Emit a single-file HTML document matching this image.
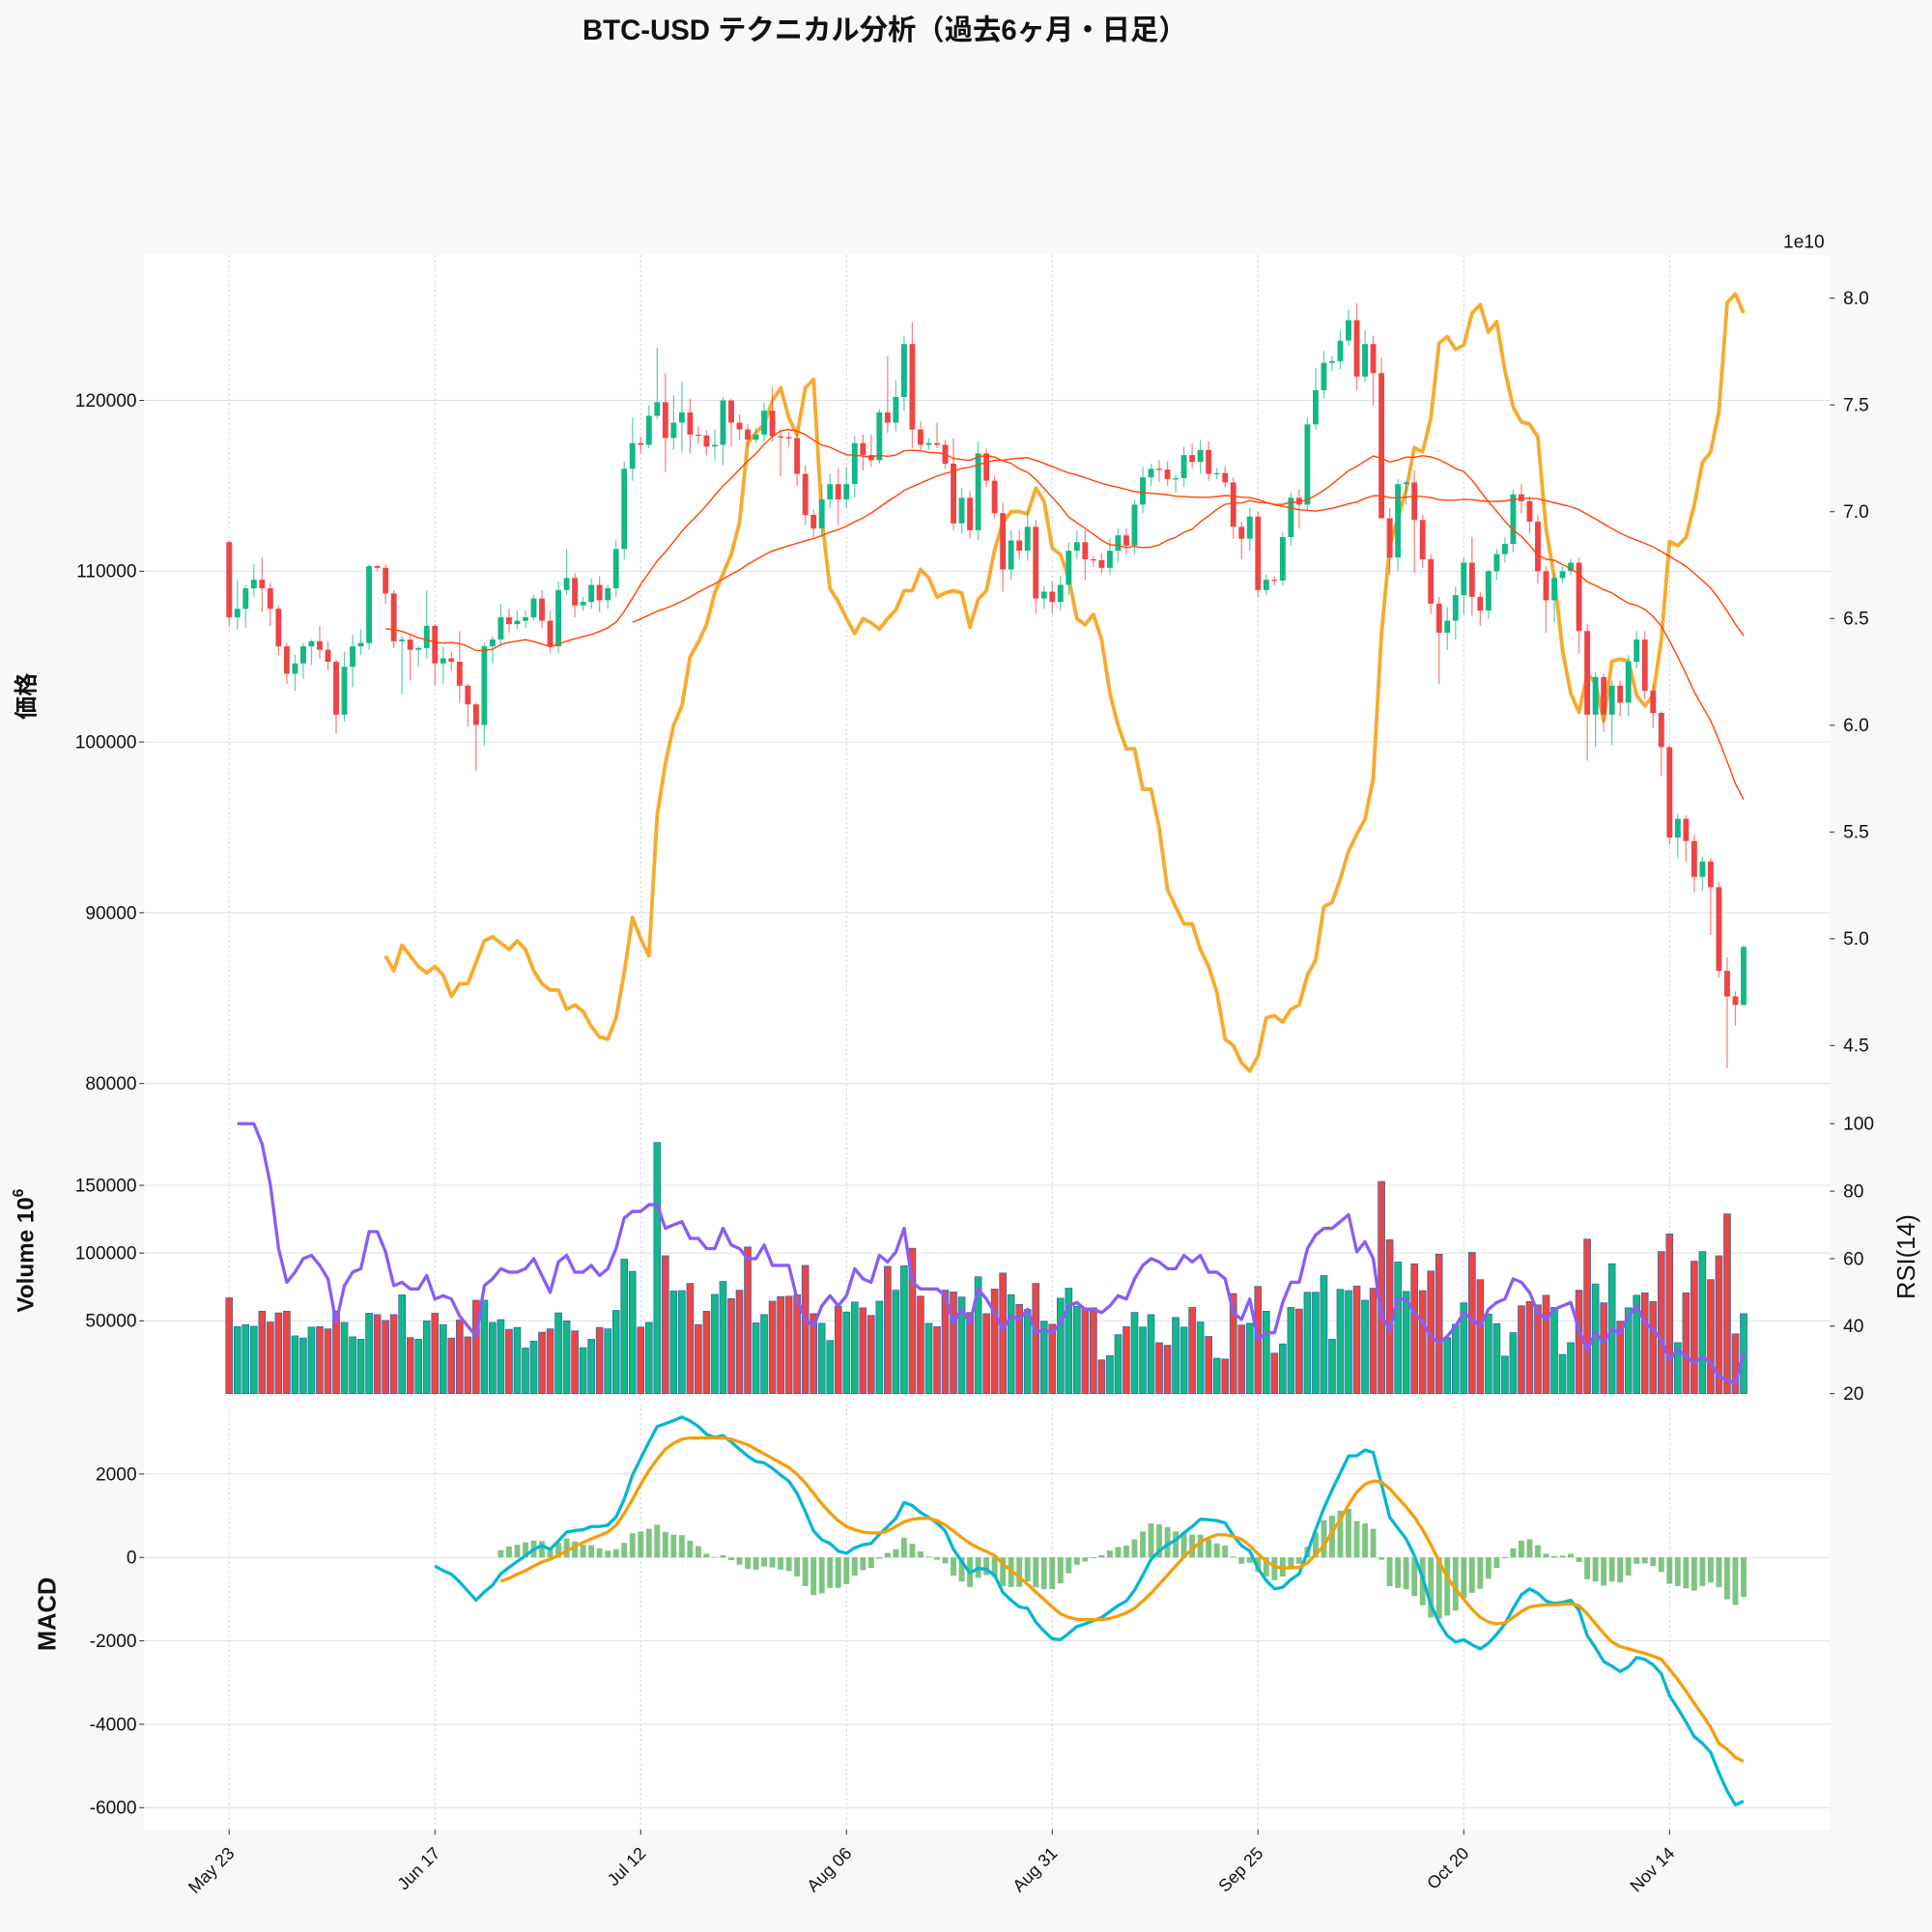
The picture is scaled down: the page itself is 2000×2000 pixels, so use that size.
<!DOCTYPE html>
<html><head><meta charset="utf-8"><style>
html,body{margin:0;padding:0;background:#f7f8fa;}
svg{display:block;font-family:"Liberation Sans","Noto Sans CJK JP",sans-serif;}
</style></head><body>
<svg id="chart" width="2000" height="2000" viewBox="0 0 1568 1568" xmlns="http://www.w3.org/2000/svg">
<rect x="0" y="0" width="1568" height="1568" fill="#f7f8fa"/>
<rect x="117" y="207" width="1368" height="1278" fill="#ffffff"/>
<g id="grid"></g>
<g id="orange"></g>
<g id="candles"></g>
<g id="vol"></g>
<g id="macd"></g>
<g id="axes"></g>
<text x="718" y="32" text-anchor="middle" font-size="23" font-weight="bold" fill="#111">BTC-USD テクニカル分析（過去6ヶ月・日足）</text>
<text transform="translate(28,565) rotate(-90)" text-anchor="middle" font-size="19" font-weight="bold" fill="#111">価格</text>
<text transform="translate(27,1015) rotate(-90)" text-anchor="middle" font-size="19" font-weight="bold" fill="#111">Volume  10<tspan font-size="12" dy="-8">6</tspan></text>
<text transform="translate(45,1310) rotate(-90)" text-anchor="middle" font-size="20" font-weight="bold" fill="#111">MACD</text>
<text transform="translate(1554,1020) rotate(-90)" text-anchor="middle" font-size="20" fill="#111">RSI(14)</text>
<text x="1464" y="201" text-anchor="middle" font-size="15" fill="#111">1e10</text>
</svg>
<script>
const firstOpen = 111700;
const closes = [107300,107800,109000,109500,109000,107800,105600,104000,104600,105600,
105900,105400,104700,101600,104400,105600,105800,110300,110200,108700,
105900,106000,105400,105500,106800,104600,104900,104700,103300,102200,
101000,105600,106000,107300,106900,107100,107300,108400,107100,105600,
108900,109600,108000,108200,109200,108300,109000,111300,116000,117500,
117400,119100,119900,117800,118700,119300,118000,117950,117300,117400,
120000,118700,118300,117700,118000,119400,117900,117850,117800,115700,
113300,112500,114200,115100,114200,115100,117500,116800,116500,119300,
118700,120200,123300,118300,117400,117500,117400,116300,112800,114300,
112400,116900,115300,113400,110100,111800,111200,112600,108400,108800,
108200,109200,111200,111700,110700,110650,110200,111200,112100,111500,
113900,115500,116000,115950,115400,115450,116800,116400,117100,115700,
115750,115200,112600,111900,113200,108900,109500,109450,112000,114300,
113900,118600,120600,122200,122300,123500,124700,121400,123300,121600,
113100,110800,115100,115200,113000,110700,108100,106400,107100,108600,
110500,108500,107700,110000,111000,111600,114500,114100,112900,110000,
108300,109600,110000,110500,106500,101600,103800,101600,103300,102300,
104700,106000,103000,101700,99700,94400,95500,94200,92100,93000,
91500,86600,85100,84600,88000];
const hiExt = [1,17,2,9,13,3,2,2,5,2, 1,9,5,1,9,7,8,1,1,2, 2,2,3,1,21,1,7,4,18,1, 1,2,2,8,5,6,4,2,5,6,
5,17,3,3,4,5,2,5,4,15, 4,6,32,17,16,18,8,5,3,9, 2,1,5,3,4,5,14,4,3,4, 5,3,9,6,9,10,4,5,12,2,
33,10,5,13,5,3,12,3,15,6, 4,7,3,3,6,6,6,9,4,3, 6,5,5,7,7,2,4,7,4,4, 3,6,3,5,5,2,5,7,6,5,
3,4,3,3,5,3,3,2,3,3, 5,4,13,7,3,6,6,10,8,5, 9,6,3,1,7,3,3,4,8,5, 3,15,3,1,3,4,3,6,3,4,
3,3,3,2,3,4,3,2,3,3, 4,5,5,4,1,1,3,2,4,3, 2,3,8,3,1];
const loExt = [5,7,11,5,14,10,5,6,10,9, 11,5,5,11,4,12,5,4,2,6, 4,31,18,10,6,13,12,5,10,13, 27,12,10,4,5,3,4,2,4,4,
4,3,7,3,4,7,5,5,6,7, 5,2,2,20,7,17,11,5,5,8, 12,14,6,4,2,4,3,23,5,7, 6,5,5,5,15,5,8,9,4,2,
6,5,8,11,4,3,2,3,4,6, 5,6,4,3,13,6,5,6,9,6, 7,5,6,5,12,4,3,4,7,5, 5,5,5,7,4,8,5,4,7,4,
3,3,7,12,7,4,3,3,3,5, 14,3,3,5,5,5,3,8,3,19, 0,10,8,12,31,5,6,30,10,11, 11,11,9,5,5,5,5,7,7,7,
19,13,3,2,13,27,19,10,18,8, 8,4,5,9,17,4,12,12,9,8, 28,4,42,12,0];
const volStart = 19;
const volAvg = [4.92,4.85,4.97,4.92,4.87,4.84,4.87,4.83,4.73,4.79,4.79,
4.89,4.99,5.01,4.98,4.95,4.99,4.95,4.85,4.79,4.76,
4.76,4.67,4.69,4.66,4.59,4.54,4.53,4.63,4.84,5.10,
5.00,4.92,5.58,5.82,6.00,6.09,6.32,6.39,6.47,6.62,
6.71,6.80,6.95,7.32,7.37,7.41,7.52,7.58,7.44,7.36,
7.58,7.62,6.97,6.64,6.58,6.50,6.43,6.50,6.48,6.45,
6.50,6.54,6.63,6.63,6.73,6.69,6.60,6.62,6.63,6.62,
6.46,6.59,6.63,6.82,6.95,7.00,7.00,6.99,7.11,7.05,
6.83,6.80,6.69,6.50,6.47,6.52,6.40,6.15,6.00,5.89,
5.89,5.70,5.70,5.52,5.23,5.15,5.07,5.07,4.95,4.87,
4.75,4.53,4.50,4.42,4.38,4.45,4.63,4.64,4.61,4.67,
4.69,4.83,4.90,5.15,5.17,5.28,5.41,5.49,5.56,5.75,
6.43,6.84,6.97,7.10,7.30,7.28,7.44,7.79,7.82,7.76,
7.78,7.93,7.97,7.84,7.89,7.66,7.49,7.42,7.41,7.35,
6.92,6.69,6.35,6.15,6.06,6.24,6.20,6.02,6.30,6.31,
6.30,6.14,6.09,6.14,6.40,6.86,6.84,6.88,7.03,7.23,
7.28,7.47,7.98,8.02,7.93];
const volumes = [67000,45700,47200,46000,57100,49100,55900,57100,38900,37300,
45400,45700,44100,57100,48800,38200,36400,55600,54600,50300,
54600,69200,37600,36400,50000,55600,47200,37300,50600,38200,
65200,65200,48800,50900,43800,45100,29900,35100,41600,44100,
55900,50000,42600,30200,36400,45100,44100,57700,95500,86500,
45400,48800,181600,98000,72000,72300,77600,47200,57100,69500,
79100,66400,72600,104500,48500,54600,64500,67900,68200,69200,
90900,55300,48200,35500,60800,56500,63900,59600,54000,64500,
90200,72600,90600,103600,68200,48200,45700,72600,71300,67600,
56200,82500,55300,73500,85300,69200,62100,58400,77600,49700,
47500,66700,74100,60800,59600,59600,21200,24300,39800,45700,
56200,45400,54600,33900,32000,52500,45400,59900,49100,38500,
22400,21800,70100,46900,48200,75400,57100,26200,33000,59900,
58700,71100,71100,83400,36400,73200,72300,75700,65200,74100,
152800,109800,93400,71700,92100,72300,86800,99200,37600,47500,
63300,100500,80400,55000,47900,24000,41300,61100,64200,61800,
68900,59900,25200,33900,72600,110300,77200,63300,92100,49700,
59600,68900,70700,64200,101100,114100,33900,70700,94000,101100,
80400,98000,128900,40400,55300];
const rsiStart = 1;
const rsi = [100,100,100,94,82,63,53,56,60,61,58,54,41,52,56,57,68,68,62,52,
53,51,51,55,48,49,48,43,40,37,52,54,57,56,56,57,60,55,50,59,
61,56,56,58,55,57,63,72,74,74,76,76,69,70,71,66,66,63,63,69,
64,63,60,60,64,58,58,58,48,42,40,46,49,46,49,57,54,53,61,59,
62,69,53,51,51,51,49,41,45,41,51,48,44,39,43,42,45,38,39,38,
41,46,47,45,45,44,46,49,48,54,58,60,59,57,57,61,59,61,56,56,
54,44,42,48,36,38,38,47,53,53,63,67,69,69,71,73,62,65,60,43,
39,48,48,44,41,37,35,37,40,44,42,40,45,47,48,54,53,50,44,42,
45,46,47,39,33,38,35,39,38,43,46,41,39,36,30,33,31,29,31,29,
25,24,23,32];
const macdStart = 25;
const macdLine = [-207,-316,-403,-589,-807,-1025,-828,-665,-392,-240,-98,44,196,283,196,392,610,643,665,741,
741,774,970,1395,1973,2376,2769,3139,3205,3281,3368,3270,3139,2954,2878,2921,2769,2594,2431,2300,
2267,2136,1973,1831,1537,1101,632,425,338,153,98,229,305,338,556,741,937,1319,1243,1079,
959,828,632,196,-98,-371,-262,-283,-425,-839,-1025,-1188,-1221,-1548,-1766,-1951,-1973,-1820,-1657,-1591,
-1515,-1439,-1297,-1155,-1046,-785,-425,-44,153,305,414,589,741,916,905,883,828,523,283,153,
-262,-556,-752,-719,-530,-392,120,665,1177,1613,2027,2431,2441,2572,2518,1755,959,698,447,44,
-480,-1134,-1570,-1875,-2027,-1973,-2093,-2191,-2060,-1842,-1591,-1221,-894,-752,-861,-1046,-1101,-1079,-1025,-1264,
-1875,-2169,-2496,-2605,-2736,-2627,-2398,-2442,-2572,-2790,-3314,-3619,-3946,-4295,-4459,-4677,-5168,-5604,-5931,-5844];
const signalStart = 33;
const signalLine = [-567,-501,-403,-316,-207,-109,-44,44,153,262,360,447,523,610,774,1046,1395,1755,2082,2354,
2594,2736,2834,2867,2867,2867,2867,2867,2834,2769,2703,2594,2485,2376,2267,2158,1995,1788,1537,1286,
1068,883,741,665,610,589,589,632,741,850,916,937,937,883,774,632,480,338,229,142,
44,-153,-316,-480,-643,-828,-1003,-1188,-1352,-1439,-1482,-1493,-1493,-1493,-1461,-1406,-1330,-1221,-1046,-861,
-643,-425,-207,11,196,371,469,545,545,501,436,283,87,-98,-207,-262,-240,-240,-131,65,
283,610,905,1264,1570,1755,1831,1809,1646,1428,1210,970,665,305,-98,-480,-752,-1003,-1243,-1439,
-1548,-1591,-1570,-1439,-1297,-1188,-1155,-1134,-1134,-1123,-1112,-1155,-1352,-1591,-1820,-2027,-2136,-2191,-2245,-2300,
-2365,-2442,-2681,-2932,-3205,-3499,-3772,-4077,-4459,-4600,-4790,-4895];
const dateLabels = ["May 23","Jun 17","Jul 12","Aug 06","Aug 31","Sep 25","Oct 20","Nov 14"];
const dateIdx = [0,25,50,75,100,125,150,175];
const priceTicks = [80000,90000,100000,110000,120000];
const rightTicks = [4.5,5.0,5.5,6.0,6.5,7.0,7.5,8.0];
const volTicks = [50000,100000,150000];
const rsiTicks = [20,40,60,80,100];
const macdTicks = [-6000,-4000,-2000,0,2000];

const NS = "http://www.w3.org/2000/svg";
const X = d => 186 + d * 6.68;
const yP = p => 325 + (120000 - p) * 0.01386;
const yR = v => 242 + (8.0 - v) * 173.3;
const yV = v => 1127 - v * 0.0011;
const yRSI = r => 1131 - (r - 20) * 2.7375;
const yM = m => 1264 - m * 0.03385;
const GREEN = "#12b886", RED = "#ef4444";

function mk(tag, attrs, parent) {
  const e = document.createElementNS(NS, tag);
  for (const k in attrs) e.setAttribute(k, attrs[k]);
  parent.appendChild(e);
  return e;
}
const grid = document.getElementById('grid');
const axes = document.getElementById('axes');
dateIdx.forEach((d, i) => {
  const l = mk('line', {x1: X(d), x2: X(d), y1: 207, y2: 1485, stroke: '#cfd3da', 'stroke-width': 0.8, 'stroke-dasharray': '2,2'}, grid);
  
  
  const t = mk('text', {transform: `translate(${X(d) + 5},1505) rotate(-45)`, 'text-anchor': 'end', 'font-size': 14, fill: '#111'}, axes);
  t.textContent = dateLabels[i];
  
  
  mk('line', {x1: X(d), x2: X(d), y1: 1485, y2: 1489, stroke: '#333', 'stroke-width': 0.8}, axes);
});
function hgrid(y, name) {
  const l = mk('line', {x1: 117, x2: 1485, y1: y, y2: y, stroke: '#dde0e5', 'stroke-width': 0.8}, grid);
  
  
}
function tick(y, label, name, right) {
  const t = mk('text', {x: right ? 1496 : 111, y: y + 5, 'text-anchor': right ? 'start' : 'end', 'font-size': 15, fill: '#111'}, axes);
  t.textContent = label;
  
  
  mk('line', {x1: right ? 1485 : 113, x2: right ? 1489 : 117, y1: y, y2: y, stroke: '#333', 'stroke-width': 0.8}, axes);
}
priceTicks.forEach(p => { hgrid(yP(p), 'price'); tick(yP(p), String(p), 'price'); });
rightTicks.forEach(v => tick(yR(v), v.toFixed(1), 'volume-avg', true));
volTicks.forEach(v => { hgrid(yV(v), 'volume'); tick(yV(v), String(v), 'volume'); });
rsiTicks.forEach(r => tick(yRSI(r), String(r), 'rsi', true));
macdTicks.forEach(m => { hgrid(yM(m), 'macd'); tick(yM(m), String(m), 'macd'); });

const cg = document.getElementById('candles');
const opens = closes.map((c, i) => i === 0 ? firstOpen : closes[i - 1]);
closes.forEach((c, i) => {
  const o = opens[i], up = c >= o, col = up ? GREEN : RED;
  const hi = Math.max(o, c) + hiExt[i] * 100, lo = Math.min(o, c) - loExt[i] * 100;
  const w = mk('line', {x1: X(i), x2: X(i), y1: yP(hi), y2: yP(lo), stroke: col, 'stroke-width': 1, opacity: 0.65}, cg);
  
  
  const top = yP(Math.max(o, c)), h = Math.max(1, yP(Math.min(o, c)) - top);
  const b = mk('rect', {x: X(i) - 2.3, y: top, width: 4.6, height: h, fill: col}, cg);
  
  
});
function ma(n) {
  const pts = [];
  for (let i = n - 1; i < closes.length; i++) {
    let s = 0; for (let k = i - n + 1; k <= i; k++) s += closes[k];
    pts.push(X(i).toFixed(1) + ',' + yP(s / n).toFixed(1));
  }
  return pts.join(' ');
}
const ma20 = mk('polyline', {points: ma(20), fill: 'none', stroke: '#ff4500', 'stroke-width': 1.1}, cg);


const ma50 = mk('polyline', {points: ma(50), fill: 'none', stroke: '#ff4500', 'stroke-width': 1.1}, cg);


const og = document.getElementById('orange');
const op = mk('polyline', {points: volAvg.map((v, i) => X(i + volStart).toFixed(1) + ',' + yR(v).toFixed(1)).join(' '), fill: 'none', stroke: '#f5a623', 'stroke-width': 3, 'stroke-linejoin': 'round', opacity: 0.95}, og);



const vg = document.getElementById('vol');
volumes.forEach((v, i) => {
  const up = closes[i] >= opens[i];
  const top = yV(v);
  const r = mk('rect', {x: X(i) - 2.7, y: top, width: 5.4, height: 1131 - top, fill: up ? GREEN : RED, stroke: '#2b6cb0', 'stroke-width': 0.6}, vg);
  
  
});
const rl = mk('polyline', {points: rsi.map((r, i) => X(i + rsiStart).toFixed(1) + ',' + yRSI(r).toFixed(1)).join(' '), fill: 'none', stroke: '#8b5cf6', 'stroke-width': 2.6, 'stroke-linejoin': 'round'}, vg);



const mg = document.getElementById('macd');
signalLine.forEach((s, j) => {
  const d = j + signalStart, m = macdLine[d - macdStart], h = m - s;
  const y0 = yM(0), y1 = yM(h);
  const r = mk('rect', {x: X(d) - 2.3, y: Math.min(y0, y1), width: 4.6, height: Math.abs(y1 - y0), fill: '#4caf50', opacity: 0.72}, mg);
  
  
});
const ml = mk('polyline', {points: macdLine.map((m, i) => X(i + macdStart).toFixed(1) + ',' + yM(m).toFixed(1)).join(' '), fill: 'none', stroke: '#06b6d4', 'stroke-width': 2.6, 'stroke-linejoin': 'round'}, mg);


const sl = mk('polyline', {points: signalLine.map((s, i) => X(i + signalStart).toFixed(1) + ',' + yM(s).toFixed(1)).join(' '), fill: 'none', stroke: '#f59e0b', 'stroke-width': 2.6, 'stroke-linejoin': 'round'}, mg);


</script>
</body></html>
